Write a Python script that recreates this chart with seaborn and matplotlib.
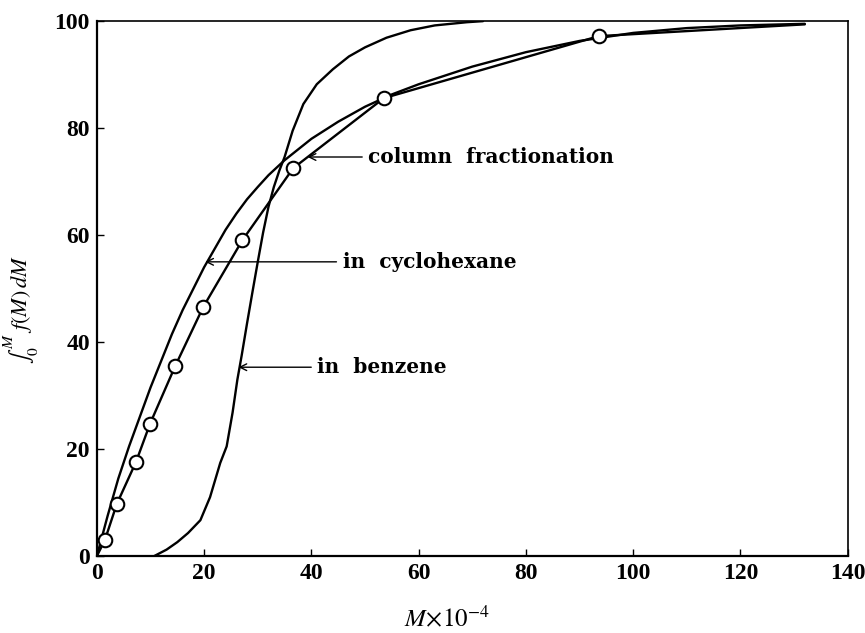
import matplotlib
matplotlib.use("Agg")
import matplotlib.pyplot as plt
import seaborn as sns
import pandas as pd

# column fractionation: measured points (circles), joined by straight segments
col_x = [0, 1.5, 3.7, 7.3, 9.9, 14.6, 19.8, 27.1, 36.6, 53.5, 93.6, 132]
col_y = [0, 3.0, 9.7, 17.6, 24.7, 35.5, 46.5, 59.0, 72.5, 85.6, 97.2, 99.4]
marker_x = [1.5, 3.7, 7.3, 9.9, 14.6, 19.8, 27.1, 36.6, 53.5, 93.6]
marker_y = [3.0, 9.7, 17.6, 24.7, 35.5, 46.5, 59.0, 72.5, 85.6, 97.2]

# in cyclohexane
cyc_x = [0, 2, 4, 6, 8, 10, 12, 14, 16, 18, 20, 22, 24, 26, 28, 30, 32, 35,
         40, 45, 50, 55, 60, 70, 80, 90, 100, 110, 120, 132]
cyc_y = [0, 7.5, 14.5, 20.5, 26, 31.5, 36.5, 41.5, 46, 50, 54, 57.5, 61, 64,
         66.7, 69, 71.2, 74, 78, 81.2, 84, 86.3, 88.2, 91.5, 94.2, 96.3, 97.8,
         98.7, 99.2, 99.5]

# in benzene
ben_x = [10.7, 13, 15, 17, 19.3, 21.1, 23, 24.2, 25.3, 26.2, 27, 28, 29, 30,
         31, 32, 33, 34, 35, 36.5, 38.5, 41, 44, 47, 50, 54, 58.5, 63, 69, 72]
ben_y = [0, 1.2, 2.6, 4.3, 6.7, 11, 17.4, 20.5, 26.8, 33, 37.5, 43.5, 49.3, 55,
         60.5, 65.3, 69, 72, 74.6, 79.5, 84.5, 88.2, 91, 93.4, 95.1, 96.9, 98.3,
         99.2, 99.8, 100]

x_ticks = [0, 20, 40, 60, 80, 100, 120, 140]
y_ticks = [0, 20, 40, 60, 80, 100]

sns.set_style("ticks")
plt.rcParams["font.family"] = ["Liberation Serif", "DejaVu Serif"]
plt.rcParams["mathtext.fontset"] = "stix"
# seaborn greys the text; the scan is plain black
for key in ["text.color", "axes.labelcolor", "xtick.color", "ytick.color",
            "axes.edgecolor"]:
    plt.rcParams[key] = "black"

fig = plt.figure(figsize=(8.65, 6.33), dpi=100)
ax = fig.add_axes([0.112, 0.1216, 0.868, 0.845])

curves = pd.concat([
    pd.DataFrame({"M": col_x, "F": col_y, "set": "column"}),
    pd.DataFrame({"M": cyc_x, "F": cyc_y, "set": "cyclohexane"}),
    pd.DataFrame({"M": ben_x, "F": ben_y, "set": "benzene"}),
])
sns.lineplot(data=curves, x="M", y="F", units="set", estimator=None,
             sort=False, color="black", linewidth=1.7, ax=ax, legend=False)
sns.scatterplot(x=marker_x, y=marker_y, marker="o", s=95, facecolor="white",
                edgecolor="black", linewidth=1.5, zorder=5, ax=ax)

arrow = dict(arrowstyle="->", color="black", lw=1.0, shrinkA=2, shrinkB=0,
             mutation_scale=12)
txt = dict(fontsize=14.5, fontweight="bold", family=["DejaVu Serif"],
           ha="left", va="center")
ax.annotate("column  fractionation", xy=(39.3, 74.6), xytext=(50.6, 74.6),
            arrowprops=arrow, **txt)
ax.annotate("in  cyclohexane", xy=(20.2, 55.0), xytext=(45.8, 55.0),
            arrowprops=arrow, **txt)
ax.annotate("in  benzene", xy=(26.4, 35.3), xytext=(41.1, 35.3),
            arrowprops=arrow, **txt)

ax.set_xlim(0, 140)
ax.set_ylim(0, 100)
ax.set_xticks(x_ticks)
ax.set_yticks(y_ticks)
ax.tick_params(direction="in", length=5, width=1.0, pad=5, labelsize=17,
               colors="black")
for lab in ax.get_xticklabels() + ax.get_yticklabels():
    lab.set_fontweight("bold")
for side in ["left", "bottom"]:
    ax.spines[side].set_linewidth(1.6)
for side in ["top", "right"]:
    ax.spines[side].set_linewidth(1.2)
ax.spines[:].set_color("black")

ax.set_xlabel(r"$M\!\times\!10^{-4}$", fontsize=18)
ax.set_ylabel(r"$\int_0^{M}\ f(M)\,dM$", fontsize=16)
ax.xaxis.set_label_coords(0.466, -0.093)
ax.yaxis.set_label_coords(-0.075, 0.46)

fig.savefig("out.png", dpi=100)
